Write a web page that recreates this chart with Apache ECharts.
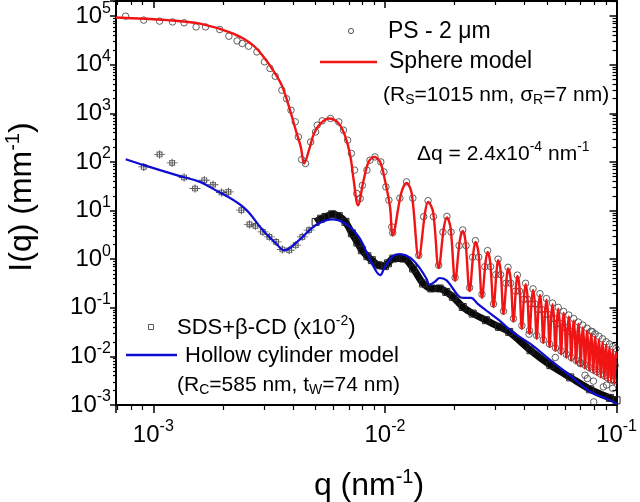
<!DOCTYPE html>
<html><head><meta charset="utf-8">
<script src="https://cdn.jsdelivr.net/npm/echarts@6/dist/echarts.min.js"></script>
<style>html,body{margin:0;padding:0;background:#fff}#c{width:640px;height:502px}</style>
</head><body><div id="c"></div>
<script>
// ---------- data (q in nm^-1, I in mm^-1) ----------
const xMin = 6.9e-4, xMax = 0.1, yMin = 1e-3, yMax = 2.05e5;

// Sphere model (red)
const sphereModel = [
 [6.9e-4,9.4e4],[1.15e-3,8.3e4],[1.59e-3,7.0e4],[2.2e-3,4.4e4],[2.69e-3,2.53e4],[3.07e-3,1.24e4],
 [3.39e-3,6.1e3],[3.61e-3,3.5e3],[3.93e-3,1.0e3],[4.12e-3,451],[4.33e-3,205],[4.48e-3,93],
 [4.7e-3,175],[4.94e-3,385],[5.28e-3,620],[5.73e-3,785],[6.32e-3,620],[6.75e-3,328],[7.1e-3,127],
 [7.33e-3,42],[7.65e-3,12.9],[8.09e-3,42],[8.5e-3,100],[9.0e-3,127],[9.54e-3,100],[1.0e-2,42],
 [1.052e-2,11.9],[1.08e-2,3.1],
 [0.01176,23],[0.0124,37],[0.01304,23],[0.0140,1.06],
 [0.01492,9.4],[0.01536,15.1],[0.01614,9.4],[0.01706,0.66],
 [0.01797,4.5],[0.01852,7.2],[0.01919,4.5],[0.0201,0.36],
 [0.02103,2.35],[0.02168,3.8],[0.02227,2.35],[0.0232,0.22],
 [0.02411,1.4],[0.0246,2.27],[0.02533,1.4],[0.02624,0.16],
 [0.0272,0.87],[0.02775,1.41],[0.02848,0.87],[0.02944,0.104],
 [0.03036,0.59],[0.0308,0.955],[0.03158,0.59],[0.0325,0.075],
 [0.03352,0.40],[0.0340,0.644],[0.03488,0.40],[0.0359,0.052],
 [0.03683,0.28],[0.0373,0.45],[0.03807,0.28],[0.0390,0.037],
 [0.0399,0.184],[0.0405,0.306],[0.0412,0.184],[0.0421,0.029],
 [0.0430,0.140],[0.0436,0.234],[0.0443,0.140],[0.0452,0.023],
 [0.0461,0.110],[0.0467,0.184],[0.0474,0.110],[0.0483,0.019],
 [0.0492,0.088],[0.0498,0.146],[0.0505,0.088],[0.0514,0.0155],
 [0.0523,0.071],[0.0529,0.118],[0.0536,0.071],[0.0545,0.0130],
 [0.0554,0.058],[0.0560,0.096],[0.0567,0.058],[0.0576,0.0110],
 [0.0585,0.047],[0.0591,0.079],[0.0598,0.047],[0.0607,0.0094],
 [0.0616,0.040],[0.0622,0.066],[0.0629,0.040],[0.0638,0.0081],
 [0.0647,0.033],[0.0653,0.055],[0.0660,0.033],[0.0669,0.0071],
 [0.0678,0.028],[0.0684,0.047],[0.0691,0.028],[0.0700,0.0063],
 [0.0709,0.024],[0.0715,0.040],[0.0722,0.024],[0.0731,0.0056],
 [0.0740,0.020],[0.0746,0.034],[0.0753,0.020],[0.0762,0.0050],
 [0.0771,0.0177],[0.0777,0.0295],[0.0784,0.0177],[0.0793,0.0045],
 [0.0802,0.0154],[0.0808,0.0256],[0.0815,0.0154],[0.0824,0.0041],
 [0.0833,0.0134],[0.0839,0.0223],[0.0846,0.0134],[0.0855,0.0037],
 [0.0864,0.0118],[0.0870,0.0196],[0.0877,0.0118],[0.0886,0.0034],
 [0.0895,0.0103],[0.0901,0.0172],[0.0908,0.0103],[0.0917,0.0031],
 [0.0926,0.0092],[0.0932,0.0153],[0.0939,0.0092],[0.0948,0.0029],
 [0.0957,0.0082],[0.0963,0.0136],[0.0970,0.0082],[0.0979,0.0027],
 [0.0988,0.0073],[0.0994,0.0121],[0.1,0.009]
];

// PS - 2 um measured points (circles)
const psPoints = [
 [7.59e-4,1.0e5],[9.09e-4,8.3e4],[1.064e-3,7.9e4],[1.21e-3,7.6e4],[1.358e-3,7.3e4],[1.53e-3,6.0e4],
 [1.68e-3,6.0e4],[1.935e-3,5.3e4],[2.12e-3,3.87e4],[2.3e-3,3.1e4],[2.42e-3,2.74e4],[2.58e-3,2.41e4],
 [2.8e-3,1.84e4],[3.02e-3,1.15e4],[3.19e-3,8.4e3],[3.36e-3,5.8e3],[3.59e-3,3.0e3],[3.76e-3,2.0e3],
 [3.93e-3,1.16e3],[4.1e-3,670],[4.23e-3,328],[4.37e-3,112],[4.54e-3,93],[4.78e-3,258],[5.02e-3,414],
 [5.1e-3,571],[5.36e-3,702],[5.82e-3,785],[6.32e-3,668],[6.62e-3,451],[6.9e-3,281],[7.16e-3,150],
 [7.39e-3,68],[7.56e-3,22.5],[7.82e-3,17.7],[7.99e-3,33],[8.36e-3,68],[8.62e-3,109],[9.06e-3,127],
 [9.6e-3,100],[9.9e-3,62.5],[1.01e-2,30.7],[1.04e-2,16.4],[1.07e-2,4.6],
 [0.0108,3.5],[0.0116,18],[0.0124,39],[0.0132,18],
 [0.0140,1.2],[0.0147,7.5],[0.01536,16],[0.0162,7.5],
 [0.01706,0.75],[0.0178,3.6],[0.01852,7.6],[0.0193,3.6],
 [0.0201,0.42],[0.0209,1.9],[0.02168,4.0],[0.0224,1.9],
 [0.0232,0.26],[0.0239,1.1],[0.0246,2.4],[0.0254,1.1],
 [0.02624,0.19],[0.0270,0.7],[0.02775,1.5],[0.0286,0.7],
 [0.02944,0.12],[0.0301,0.48],[0.0308,1.0],[0.0316,0.48],
 [0.0325,0.085],[0.0333,0.32],[0.0340,0.68],[0.0349,0.32],
 [0.0359,0.06],[0.0366,0.22],[0.0373,0.47],[0.0381,0.22],
 [0.0390,0.043],[0.0398,0.15],[0.0405,0.32],[0.0413,0.15],
 [0.0421,0.034],[0.0429,0.12],[0.0436,0.245],[0.0444,0.12],
 [0.0452,0.027],[0.0460,0.092],[0.0467,0.195],[0.0475,0.092],
 [0.0483,0.022],[0.0491,0.073],[0.0498,0.155],[0.0506,0.073],
 [0.0514,0.018],[0.0522,0.06],[0.0529,0.125],[0.0537,0.06],
 [0.0545,0.015],[0.0553,0.048],[0.0560,0.102],[0.0568,0.048],
 [0.0576,0.013],[0.0584,0.04],[0.0591,0.084],[0.0599,0.04],
 [0.0607,0.011],[0.0615,0.033],[0.0622,0.071],[0.0630,0.033],
 [0.0638,0.0095],[0.0646,0.028],[0.0653,0.06],[0.0661,0.028],
 [0.0669,0.0083],[0.0677,0.024],[0.0684,0.051],[0.0692,0.024],
 [0.0700,0.0074],[0.0708,0.02],[0.0715,0.044],[0.0723,0.02],
 [0.0731,0.0066],[0.0739,0.017],[0.0746,0.038],[0.0754,0.017],
 [0.0762,0.0059],[0.0770,0.015],[0.0777,0.033],[0.0785,0.015],
 [0.0793,0.0053],[0.0801,0.013],[0.0808,0.029],[0.0816,0.013],
 [0.0824,0.0048],[0.0832,0.0115],[0.0839,0.026],[0.0847,0.0115],
 [0.0855,0.0043],[0.0863,0.010],[0.0870,0.023],[0.0878,0.010],
 [0.0886,0.0040],[0.0894,0.009],[0.0901,0.020],[0.0909,0.009],
 [0.0917,0.0036],[0.0925,0.008],[0.0932,0.018],[0.0940,0.008],
 [0.0948,0.0033],[0.0956,0.0072],[0.0963,0.016],[0.0971,0.0072],
 [0.0979,0.0031],[0.0987,0.0065],[0.0994,0.0145],
 [0.0419,0.0286],[0.0544,0.0095],[0.0697,0.0071],[0.0731,0.0041],[0.0748,0.0035],[0.0795,0.0031],
 [0.0877,0.00236],[0.0906,0.00257],[0.0962,0.0022],[0.0797,0.00116],[0.0787,0.032]
];

// SDS + beta-CD (x10^-2): sparse low-q points (with error bars) and dense high-q points
const sdsLow = [
 [9.09e-4,79],[1.064e-3,143],[1.206e-3,96],[1.358e-3,48],[1.514e-3,28.5],[1.66e-3,42],[1.81e-3,34],
 [1.97e-3,23.5],[2.11e-3,24.3],[2.4e-3,10.2],[2.6e-3,5.2],[2.76e-3,4.85],[2.97e-3,3.65],[3.17e-3,2.88],
 [3.39e-3,2.27],[3.61e-3,1.58],[3.86e-3,1.53],[4.12e-3,1.94],[4.4e-3,2.88],[4.7e-3,3.95]
];
const sdsHigh = [
 [5.02e-3,5.85],[5.3e-3,6.8],[5.54e-3,7.4],[5.92e-3,8.4],[6.32e-3,7.7],[6.75e-3,5.85],[7.2e-3,3.4],
 [7.6e-3,2.2],[7.95e-3,1.53],[8.4e-3,1.15],[8.78e-3,0.955],[9.38e-3,0.75],[0.0100,0.72],[0.0103,0.82],
 [0.01087,1.03],[0.0120,1.03],[0.01324,0.644],[0.01462,0.316],[0.01586,0.25],[0.01723,0.25],
 [0.0184,0.212],[0.01965,0.168],[0.02168,0.104],[0.02393,0.076],[0.0273,0.0556],[0.0311,0.0405],
 [0.0344,0.0319],[0.0425,0.0134],[0.0518,0.0066],[0.0631,0.0037],[0.0769,0.0021],[0.0936,0.0014],
 [0.1,0.00125]
];

// Hollow cylinder model (blue)
const cylinderModel = [
 [7.6e-4,114],[9.1e-4,86],[1.26e-3,53.5],[1.59e-3,39],[1.75e-3,30.7],[2.44e-3,11.9],[2.97e-3,3.95],
 [3.39e-3,2.1],[3.67e-3,1.53],[4.26e-3,2.46],[5.02e-3,5.0],[5.92e-3,6.6],[6.75e-3,5.4],[7.7e-3,2.9],
 [8.78e-3,0.82],[9.54e-3,0.47],[0.0100,0.7],[0.01087,1.17],[0.01161,1.27],[0.0124,1.17],[0.01324,0.954],
 [0.01416,0.644],[0.0151,0.40],[0.0156,0.30],[0.0164,0.34],[0.01723,0.41],[0.0184,0.37],[0.01965,0.25],
 [0.0210,0.168],[0.02206,0.16],[0.02355,0.16],[0.0251,0.122],[0.0273,0.089],[0.0311,0.0556],
 [0.0355,0.032],[0.0425,0.018],[0.0518,0.0084],[0.0631,0.0040],[0.0769,0.0019],[0.0936,0.00126],
 [0.1,0.00105]
];

// ---------- styling ----------
const FONT = 'Liberation Sans, Arial, sans-serif';
const RED = '#f01414', BLUE = '#0c0cd2';
function powLabel(v){
  const e = Math.log10(v), r = Math.round(e);
  if (Math.abs(e - r) > 1e-6) return '';
  return '{b|10}{s|' + r + '}';
}
const labelRich = {
  b:{fontSize:24,fontFamily:FONT,color:'#000'},
  s:{fontSize:16,fontFamily:FONT,color:'#000',padding:[0,0,16,0]}
};
const axLine = {show:true,onZero:false,lineStyle:{color:'#000',width:2}};
function xAx(pos){
  const bottom = pos === 'bottom';
  return {type:'log',logBase:10,position:pos,min:xMin,max:xMax,gridIndex:0,
    axisLine:axLine,
    axisTick:{show:true,inside:!bottom,length:bottom?8:7,lineStyle:{color:'#000',width:1.5}},
    minorTick:{show:true,splitNumber:9,length:bottom?5:4,lineStyle:{color:'#000',width:1.2}},
    splitLine:{show:false},minorSplitLine:{show:false},
    axisLabel:{show:bottom,formatter:powLabel,rich:labelRich,margin:14,showMinLabel:false,showMaxLabel:true}};
}
function yAx(pos){
  const left = pos === 'left';
  return {type:'log',logBase:10,position:pos,min:yMin,max:yMax,gridIndex:0,
    axisLine:axLine,
    axisTick:{show:true,inside:!left,length:left?6:7,lineStyle:{color:'#000',width:1.5}},
    minorTick:{show:true,splitNumber:9,length:left?3:4,lineStyle:{color:'#000',width:1.2}},
    splitLine:{show:false},minorSplitLine:{show:false},
    axisLabel:{show:left,formatter:powLabel,rich:labelRich,margin:5,showMaxLabel:false,showMinLabel:true}};
}
const crossSym = 'path://M2,1H8V7H2Z M-2,4H12 M5,-1V9';

function txt(x,y,text,size,rich,align){
  const a = align || 'left';
  return {type:'text',x:x,y:y,z:100,style:{text:text,fontSize:size,fontFamily:FONT,fill:'#000',
    align:a,textAlign:a,verticalAlign:'middle',textVerticalAlign:'middle',rich:rich||{}}};
}
const supR = (s)=>({fontSize:s,fontFamily:FONT,fill:'#000',padding:[0,0,Math.round(s*0.9),0]});
const subR = (s)=>({fontSize:s,fontFamily:FONT,fill:'#000',padding:[Math.round(s*0.7),0,0,0]});

const yTitle = txt(22,197,'I(q) (mm{p|-1})',32,{p:supR(20)},'center');
yTitle.rotation = Math.PI/2;

const chart = echarts.init(document.getElementById('c'),null,{renderer:'canvas'});
chart.setOption({
  animation:false,
  backgroundColor:'#fff',
  grid:{left:116,right:20,top:1,bottom:97,containLabel:false},
  xAxis:[xAx('bottom'),xAx('top')],
  yAxis:[yAx('left'),yAx('right')],
  series:[
    {type:'line',name:'SDS band',data:sdsHigh,xAxisIndex:0,yAxisIndex:0,smooth:0.3,
      lineStyle:{color:'#0a0a0a',width:7},symbol:'rect',symbolSize:7,showSymbol:true,showAllSymbol:true,
      itemStyle:{color:'rgba(0,0,0,0)',borderColor:'#222',borderWidth:1},z:2},
    {type:'scatter',name:'SDS+β-CD',data:sdsLow,symbol:crossSym,symbolSize:[11,8],
      itemStyle:{color:'rgba(0,0,0,0)',borderColor:'#333',borderWidth:1},z:3},
    {type:'line',name:'Hollow cylinder model',data:cylinderModel,smooth:0.4,symbol:'none',
      lineStyle:{color:BLUE,width:2.2},z:4},
    {type:'scatter',name:'PS - 2 μm',data:psPoints,symbol:'circle',symbolSize:6.5,
      itemStyle:{color:'rgba(0,0,0,0)',borderColor:'#3a3a3a',borderWidth:1},z:5},
    {type:'line',name:'Sphere model',data:sphereModel,smooth:0.35,symbol:'none',
      lineStyle:{color:RED,width:2.4},z:6}
  ],
  graphic:[
    {type:'circle',shape:{cx:351,cy:31,r:2.6},style:{fill:'rgba(0,0,0,0)',stroke:'#555',lineWidth:1},z:100},
    txt(388,32,'PS - 2 μm',23),
    {type:'line',shape:{x1:320,y1:62,x2:377,y2:62},style:{stroke:RED,lineWidth:2.5},z:100},
    txt(389,62,'Sphere model',23),
    txt(383,95,'(R{s|S}=1015 nm, σ{s|R}=7 nm)',21,{s:subR(14)}),
    txt(417,154,'Δq = 2.4x10{p|-4} nm{p|-1}',21,{p:supR(14)}),
    {type:'rect',shape:{x:148.5,y:324.5,width:5,height:5},style:{fill:'rgba(0,0,0,0)',stroke:'#555',lineWidth:1},z:100},
    txt(177,328,'SDS+β-CD (x10{p|-2})',22,{p:supR(14)}),
    {type:'line',shape:{x1:126,y1:355,x2:177,y2:355},style:{stroke:BLUE,lineWidth:2.5},z:100},
    txt(185,356,'Hollow cylinder model',22),
    txt(177,385,'(R{s|C}=585 nm, t{s|W}=74 nm)',21,{s:subR(14)}),
    txt(369,486,'q (nm{p|-1})',32,{p:supR(20)},'center'),
    yTitle
  ]
});
</script>
</body></html>
